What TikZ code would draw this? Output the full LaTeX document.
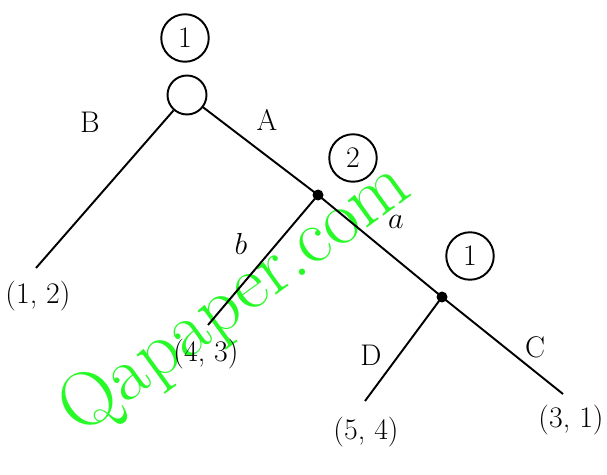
\documentclass[tikz,border=0pt]{standalone}
\usepackage{xcolor}
\definecolor{wmgreen}{RGB}{40,250,40}
\begin{document}
\begin{tikzpicture}[x=0.02cm, y=-0.02cm, font=\fontsize{17}{20}\selectfont,
    player/.style={draw, circle, line width=1.1pt, minimum size=0.95cm, inner sep=0pt},
    chance/.style={draw, circle, line width=1.1pt, minimum size=0.78cm, inner sep=0pt},
    dec/.style={fill, circle, minimum size=0.22cm, inner sep=0pt},
    branch/.style={line width=1.1pt}]
    \useasboundingbox (0,0) rectangle (607,475);
    % marca d'agua
    \node[text=wmgreen, rotate=36, font=\fontsize{44}{50}\selectfont]
      (wm) at (236,300) {Qapaper.com};
    % nos de decisao
    \node[chance] (root) at (187,95) {};
    \node[dec] (n2) at (318,195) {};
    \node[dec] (n3) at (442,297) {};
    % jogador que decide em cada no
    \node[player] (p1) at (185,38) {1};
    \node[player] (p2) at (353,158) {2};
    \node[player] (p3) at (470,256) {1};
    % folhas (pontos finais)
    \coordinate (l1) at (36,268);
    \coordinate (l2) at (208,325);
    \coordinate (l3) at (365,401);
    \coordinate (l4) at (563,394);
    \node (v1) at (38,296) {(1, 2)};
    \node (v2) at (206,354) {(4, 3)};
    \node (v3) at (366,432) {(5, 4)};
    \node (v4) at (571,420) {(3, 1)};
    % ramos
    \draw[branch] (root) -- (l1);
    \draw[branch] (root) -- (n2.center);
    \draw[branch] (n2.center) -- (l2);
    \draw[branch] (n2.center) -- (n3.center);
    \draw[branch] (n3.center) -- (l3);
    \draw[branch] (n3.center) -- (l4);
    % rotulos das acoes
    \node (lB) at (90,122) {B};
    \node (lA) at (267,120) {A};
    \node (lb) at (241,244) {$b$};
    \node (la) at (396,222) {$a$};
    \node (lD) at (371,355) {D};
    \node (lC) at (535,347) {C};
  \end{tikzpicture}
\end{document}
